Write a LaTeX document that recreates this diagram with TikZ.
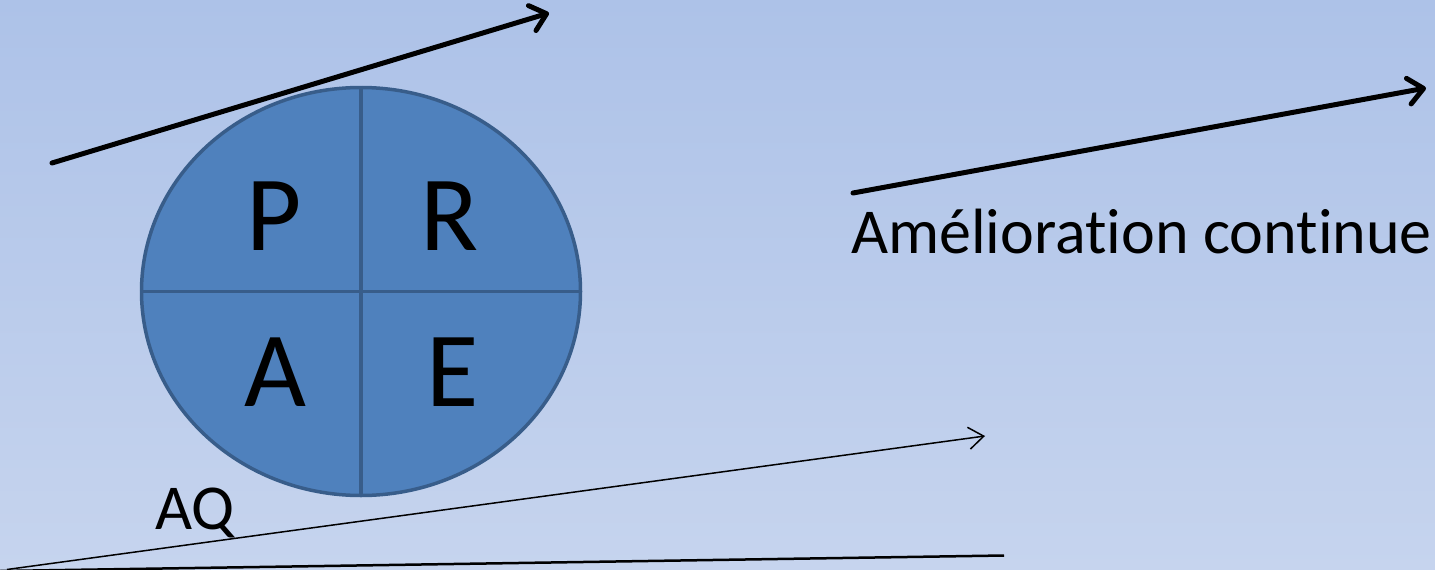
\documentclass[tikz,border=0pt]{standalone}
\usepackage{fontspec}
\setmainfont{Carlito}[Ligatures={NoCommon,NoRare,NoContextual}]
\usetikzlibrary{arrows.meta,shapes.geometric}
\definecolor{bgtop}{HTML}{ADC2E8}
\definecolor{bgbot}{HTML}{C6D4EE}
\definecolor{pfill}{HTML}{4F81BD}
\definecolor{pline}{HTML}{385D8A}
\tikzset{
  bigarrow/.style={line width=5pt, line cap=round, -{Straight Barb[length=15pt,width=26pt,line cap=round,line join=round]}},
  thinarrow/.style={line width=1.5pt, -{Straight Barb[length=15pt,width=22pt]}},
  plainline/.style={line width=2.5pt},
  disc/.style={ellipse, fill=pfill, draw=pline, line width=3.5pt, minimum width=439pt, minimum height=408pt, inner sep=0pt},
  divider/.style={draw=pline, line width=3.5pt},
  bigletter/.style={inner sep=0pt, font=\fontsize{107}{107}\selectfont},
  label/.style={inner sep=0pt, anchor=base west, font=\fontsize{64}{64}\selectfont}
}
\begin{document}
\begin{tikzpicture}[x=1pt,y=-1pt]
\useasboundingbox (0,0) rectangle (1435,570);
\shade[top color=bgtop, bottom color=bgbot] (0,0) rectangle (1435,570);

\node[disc] (pdca) at (361,291.5) {};
\draw[divider] (pdca.north) -- (pdca.south);
\draw[divider] (pdca.west) -- (pdca.east);

\node[bigletter] (P) at (274,216) {P};
\node[bigletter] (R) at (450,216) {R};
\node[bigletter] (A) at (275,372.5) {A};
\node[bigletter] (E) at (453,372.5) {E};

\node[label] (aq) at (155,529) {AQ};
\node[label] (amc) at (851,253) {Amélioration continue};

\coordinate (t1) at (52,163);
\coordinate (t2) at (549,13);
\draw[bigarrow] (t1) -- (t2);

\coordinate (r1) at (853,193);
\coordinate (r2) at (1426,88);
\draw[bigarrow] (r1) -- (r2);

\coordinate (b0) at (7,569.5);
\coordinate (b1) at (985,436);
\draw[thinarrow] (b0) -- (b1);

\coordinate (c0) at (0,571);
\coordinate (c1) at (1004,555.5);
\draw[plainline] (c0) -- (c1);
\end{tikzpicture}
\end{document}
